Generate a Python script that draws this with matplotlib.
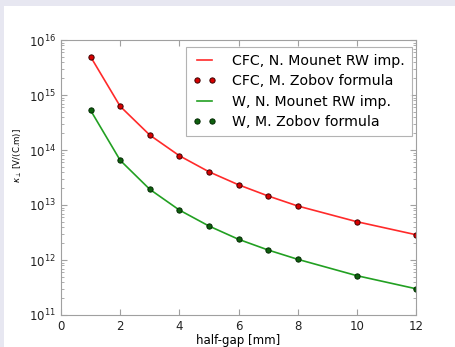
import matplotlib
matplotlib.use("Agg")
import matplotlib.pyplot as plt
from matplotlib.patches import Rectangle

# half-gap [mm]
half_gap = [1, 2, 3, 4, 5, 6, 7, 8, 10, 12]

# kick factor values [V/(C.m)]
cfc_mounet = [4.97e15, 6.23e14, 1.87e14, 7.87e13, 4.02e13, 2.33e13, 1.46e13, 9.6e12, 4.97e12, 2.88e12]
cfc_zobov = [4.97e15, 6.23e14, 1.87e14, 7.87e13, 4.02e13, 2.33e13, 1.46e13, 9.6e12, 4.97e12, 2.88e12]
w_mounet = [5.27e14, 6.5e13, 1.93e13, 8.1e12, 4.15e12, 2.38e12, 1.52e12, 1.03e12, 5.19e11, 3.0e11]
w_zobov = [5.27e14, 6.5e13, 1.93e13, 8.1e12, 4.15e12, 2.38e12, 1.52e12, 1.03e12, 5.19e11, 3.0e11]

W, H = 455, 347
fig = plt.figure(figsize=(W / 100, H / 100), dpi=100, facecolor='#e7e7f1')
# white page area (screenshot has a lavender band on top and left)
fig.patches.append(Rectangle((4 / W, 0), 1, 1 - 6 / H, transform=fig.transFigure,
                             facecolor='white', edgecolor='none', zorder=-10))

ax = fig.add_axes([61 / W, (H - 315) / H, 355 / W, 275 / H])
ax.set_zorder(5)

ax.plot(half_gap, cfc_mounet, '-', color='#ff2a2a', lw=1.2, label='CFC, N. Mounet RW imp.')
ax.plot(half_gap, cfc_zobov, 'o', color='#d80000', mec='#3a0000', ms=3.8, mew=0.7,
        label='CFC, M. Zobov formula')
ax.plot(half_gap, w_mounet, '-', color='#22a022', lw=1.2, label='W, N. Mounet RW imp.')
ax.plot(half_gap, w_zobov, 'o', color='#0e600e', mec='#002800', ms=3.8, mew=0.7,
        label='W, M. Zobov formula')

ax.set_yscale('log')
ax.set_xlim(0, 12)
ax.set_ylim(1e11, 1e16)
ax.set_xticks([0, 2, 4, 6, 8, 10, 12])

for s in ax.spines.values():
    s.set_color('#a0a0a0')
ax.tick_params(which='both', direction='in', top=True, right=True, colors='#a0a0a0',
               labelcolor='#222222', labelsize=8.5)
ax.tick_params(which='major', length=4)
ax.tick_params(which='minor', length=2)

ax.set_xlabel('half-gap [mm]', fontsize=8.5, labelpad=1)
ax.set_ylabel(r'$\kappa_\perp$ [V/(C.m)]', fontsize=6.2)
ax.yaxis.set_label_coords(-0.104, 0.578)

leg = ax.legend(loc='upper right', bbox_to_anchor=(1 - 4 / 355, 1 - 7 / 275),
                borderaxespad=0, numpoints=2, fontsize=10.15, fancybox=False,
                handlelength=1.7, labelspacing=0.45, borderpad=0.5, handletextpad=1.1)
leg.get_frame().set_edgecolor('#a0a0a0')
leg.get_frame().set_linewidth(0.8)

fig.savefig('out.png', dpi=100, facecolor=fig.get_facecolor())
